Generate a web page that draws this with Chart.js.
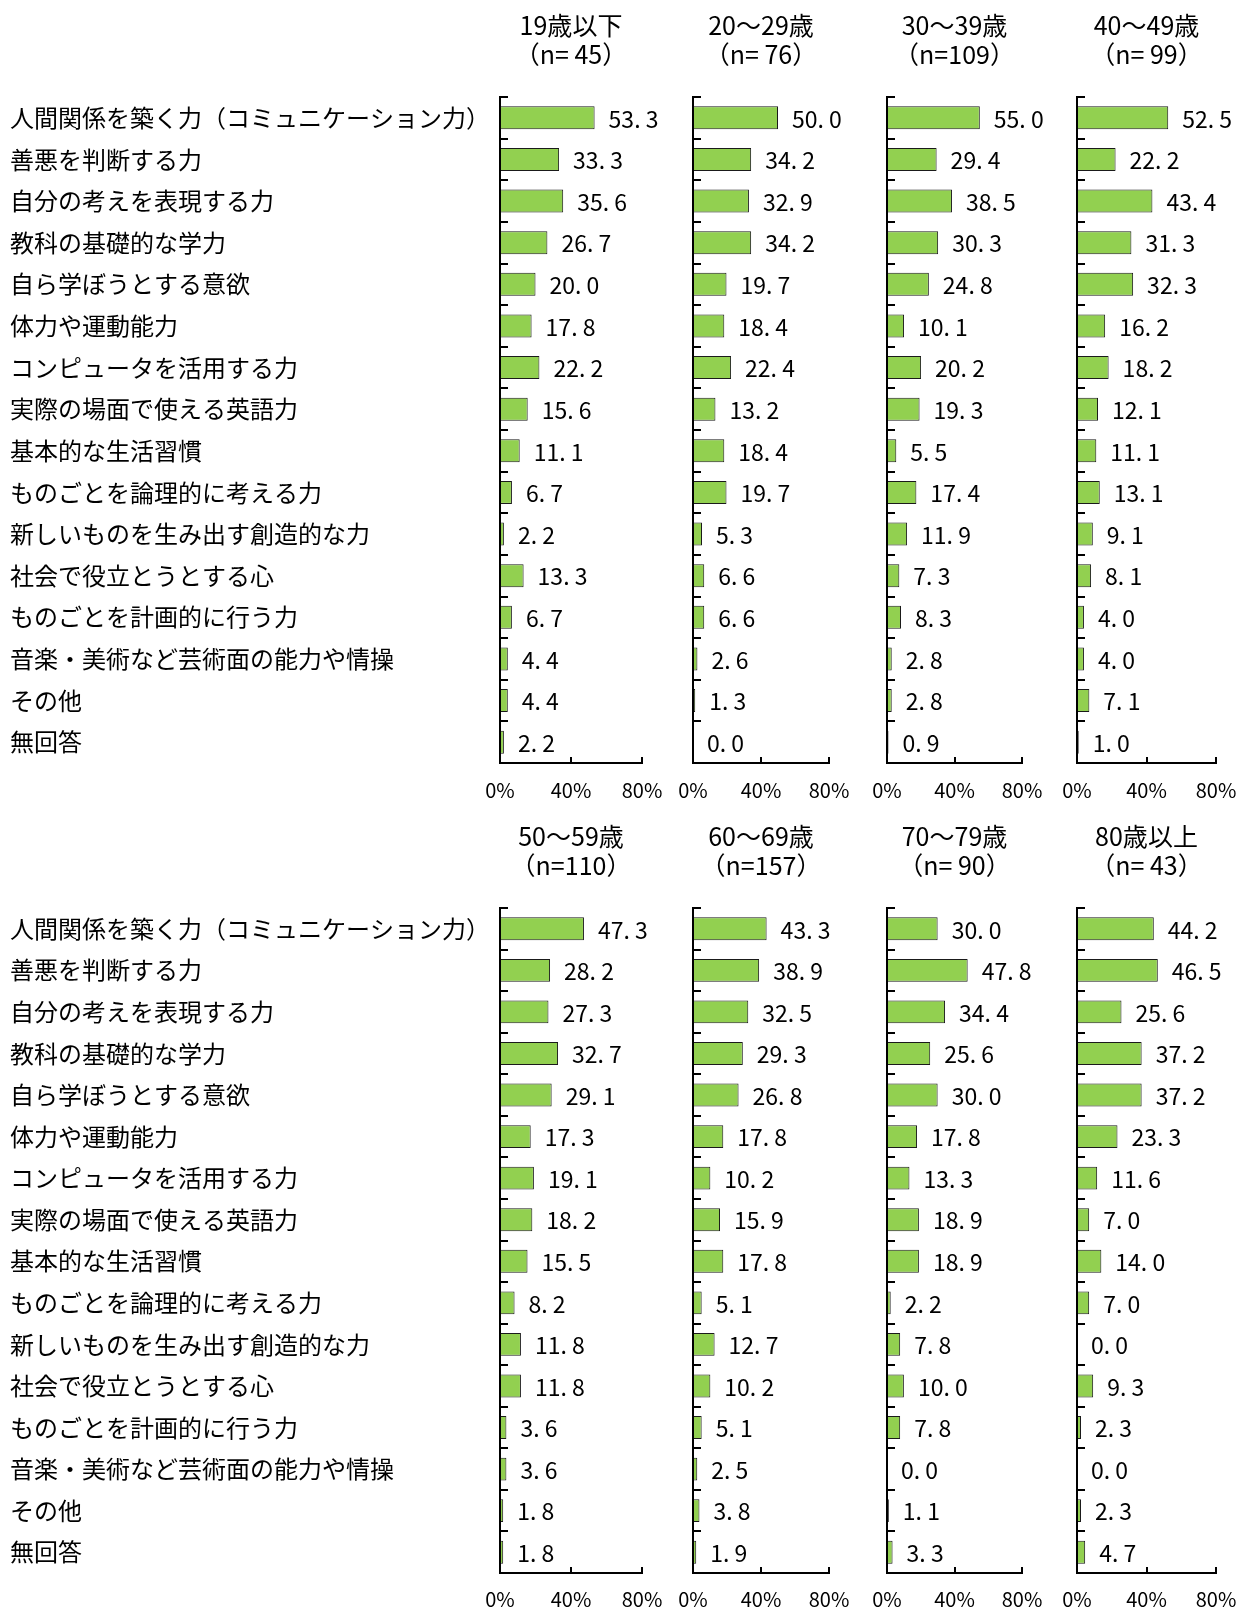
<!DOCTYPE html>
<html>
<head>
<meta charset="utf-8">
<title>年代別</title>
<script src="https://cdn.jsdelivr.net/npm/chart.js@4/dist/chart.umd.min.js"></script>
<style>
  html, body { margin: 0; padding: 0; background: #fff; overflow: hidden; }
  #wrap { position: relative; width: 1242px; height: 1611px; }
  canvas { position: absolute; }
</style>
</head>
<body>
<div id="wrap"></div>
<script>
// categories (same for every panel)
const categories = [
  '人間関係を築く力（コミュニケーション力）',
  '善悪を判断する力',
  '自分の考えを表現する力',
  '教科の基礎的な学力',
  '自ら学ぼうとする意欲',
  '体力や運動能力',
  'コンピュータを活用する力',
  '実際の場面で使える英語力',
  '基本的な生活習慣',
  'ものごとを論理的に考える力',
  '新しいものを生み出す創造的な力',
  '社会で役立とうとする心',
  'ものごとを計画的に行う力',
  '音楽・美術など芸術面の能力や情操',
  'その他',
  '無回答'
];

const ageGroups = ['19歳以下', '20～29歳', '30～39歳', '40～49歳', '50～59歳', '60～69歳', '70～79歳', '80歳以上'];
const sampleSizes = ['（n= 45）', '（n= 76）', '（n=109）', '（n= 99）', '（n=110）', '（n=157）', '（n= 90）', '（n= 43）'];

const age19 = [53.3, 33.3, 35.6, 26.7, 20.0, 17.8, 22.2, 15.6, 11.1, 6.7, 2.2, 13.3, 6.7, 4.4, 4.4, 2.2];
const age20s = [50.0, 34.2, 32.9, 34.2, 19.7, 18.4, 22.4, 13.2, 18.4, 19.7, 5.3, 6.6, 6.6, 2.6, 1.3, 0.0];
const age30s = [55.0, 29.4, 38.5, 30.3, 24.8, 10.1, 20.2, 19.3, 5.5, 17.4, 11.9, 7.3, 8.3, 2.8, 2.8, 0.9];
const age40s = [52.5, 22.2, 43.4, 31.3, 32.3, 16.2, 18.2, 12.1, 11.1, 13.1, 9.1, 8.1, 4.0, 4.0, 7.1, 1.0];
const age50s = [47.3, 28.2, 27.3, 32.7, 29.1, 17.3, 19.1, 18.2, 15.5, 8.2, 11.8, 11.8, 3.6, 3.6, 1.8, 1.8];
const age60s = [43.3, 38.9, 32.5, 29.3, 26.8, 17.8, 10.2, 15.9, 17.8, 5.1, 12.7, 10.2, 5.1, 2.5, 3.8, 1.9];
const age70s = [30.0, 47.8, 34.4, 25.6, 30.0, 17.8, 13.3, 18.9, 18.9, 2.2, 7.8, 10.0, 7.8, 0.0, 1.1, 3.3];
const age80 = [44.2, 46.5, 25.6, 37.2, 37.2, 23.3, 11.6, 7.0, 14.0, 7.0, 0.0, 9.3, 2.3, 0.0, 2.3, 4.7];
const allSeries = [age19, age20s, age30s, age40s, age50s, age60s, age70s, age80];

const xTicks = [0, 40, 80];

const JP = '"Noto Sans CJK JP", "Noto Sans", sans-serif';

// layout of the 4 columns / 2 rows
const axisX = [500, 693, 887, 1077];
const plotW = [142, 136, 135, 139];
const rows = [
  { top: 0, height: 811, plotTop: 97, xHeight: 48, tickPad: 15 },
  { top: 811, height: 800, plotTop: 97, xHeight: 38, tickPad: 14 }
];

// axis lines with short inward tick marks (category boundaries + 0/40/80)
const axisFrame = {
  id: 'axisFrame',
  afterDraw(chart) {
    const ctx = chart.ctx;
    const a = chart.chartArea;
    const xs = chart.scales.x, ys = chart.scales.y;
    const x0 = Math.round(a.left), yb = Math.round(a.bottom);
    ctx.save();
    ctx.strokeStyle = '#000';
    ctx.lineWidth = 2;
    ctx.setLineDash([]);
    ctx.beginPath();
    ctx.moveTo(x0, a.top - 1);
    ctx.lineTo(x0, yb);
    ctx.lineTo(Math.round(a.right) + 1, yb);
    ctx.stroke();
    ctx.beginPath();
    for (let i = 0; i < categories.length; i++) {
      const y = Math.round(ys.getPixelForValue(i - 0.5));
      ctx.moveTo(x0, y);
      ctx.lineTo(x0 + 8, y);
    }
    xTicks.forEach(v => {
      const x = Math.round(xs.getPixelForValue(v));
      ctx.moveTo(x, yb);
      ctx.lineTo(x, yb - 6);
    });
    ctx.stroke();
    ctx.restore();
  }
};

// value labels to the right of each bar, e.g. "53. 3"
const valueLabels = {
  id: 'valueLabels',
  afterDatasetsDraw(chart) {
    const ctx = chart.ctx;
    const meta = chart.getDatasetMeta(0);
    const data = chart.data.datasets[0].data;
    ctx.save();
    ctx.font = '23px ' + JP;
    ctx.fillStyle = '#000';
    ctx.textAlign = 'left';
    ctx.textBaseline = 'middle';
    meta.data.forEach((bar, i) => {
      const txt = data[i].toFixed(1).replace('.', '. ');
      ctx.fillText(txt, bar.x + 14, bar.y + 1);
    });
    ctx.restore();
  }
};

// two-line panel heading centred over the plot area
const panelTitle = {
  id: 'panelTitle',
  afterDraw(chart, args, opts) {
    const ctx = chart.ctx;
    const cx = (chart.chartArea.left + chart.chartArea.right) / 2;
    ctx.save();
    ctx.font = '25px ' + JP;
    ctx.fillStyle = '#000';
    ctx.textAlign = 'center';
    ctx.textBaseline = 'middle';
    opts.lines.forEach((t, i) => ctx.fillText(t, cx, 25 + i * 29));
    ctx.restore();
  }
};

const wrap = document.getElementById('wrap');

allSeries.forEach((values, k) => {
  const col = k % 4;
  const row = rows[Math.floor(k / 4)];
  const first = col === 0;
  const padL = first ? 10 : 34;
  const yW = first ? 490 : 0;
  const padR = 38;
  const left = axisX[col] - padL - yW;
  const width = padL + yW + plotW[col] + padR;

  const canvas = document.createElement('canvas');
  canvas.width = width;
  canvas.height = row.height;
  canvas.style.left = left + 'px';
  canvas.style.top = row.top + 'px';
  wrap.appendChild(canvas);

  new Chart(canvas.getContext('2d'), {
    type: 'bar',
    data: {
      labels: categories,
      datasets: [{
        data: values,
        backgroundColor: '#92D050',
        borderColor: '#1a1a1a',
        borderWidth: 1,
        borderSkipped: false,
        categoryPercentage: 1,
        barPercentage: 0.55
      }]
    },
    options: {
      indexAxis: 'y',
      responsive: false,
      animation: false,
      devicePixelRatio: 1,
      layout: { padding: { top: row.plotTop, bottom: 0, left: padL, right: padR } },
      plugins: {
        legend: { display: false },
        tooltip: { enabled: false },
        panelTitle: { lines: [ageGroups[k], sampleSizes[k]] }
      },
      scales: {
        y: {
          position: 'left',
          afterFit: s => { s.width = yW; },
          border: { display: false },
          grid: { display: false, drawTicks: false },
          ticks: {
            display: first,
            autoSkip: false,
            crossAlign: 'far',
            padding: 0,
            color: '#000',
            font: { family: JP, size: 24 }
          }
        },
        x: {
          min: 0,
          max: 80,
          afterFit: s => { s.height = row.xHeight; },
          afterBuildTicks: s => { s.ticks = xTicks.map(v => ({ value: v })); },
          border: { display: false },
          grid: { display: false, drawTicks: false },
          ticks: {
            padding: row.tickPad,
            maxRotation: 0,
            color: '#000',
            font: { family: JP, size: 20 },
            callback: v => v + '%'
          }
        }
      }
    },
    plugins: [axisFrame, valueLabels, panelTitle]
  });
});
</script>
</body>
</html>
